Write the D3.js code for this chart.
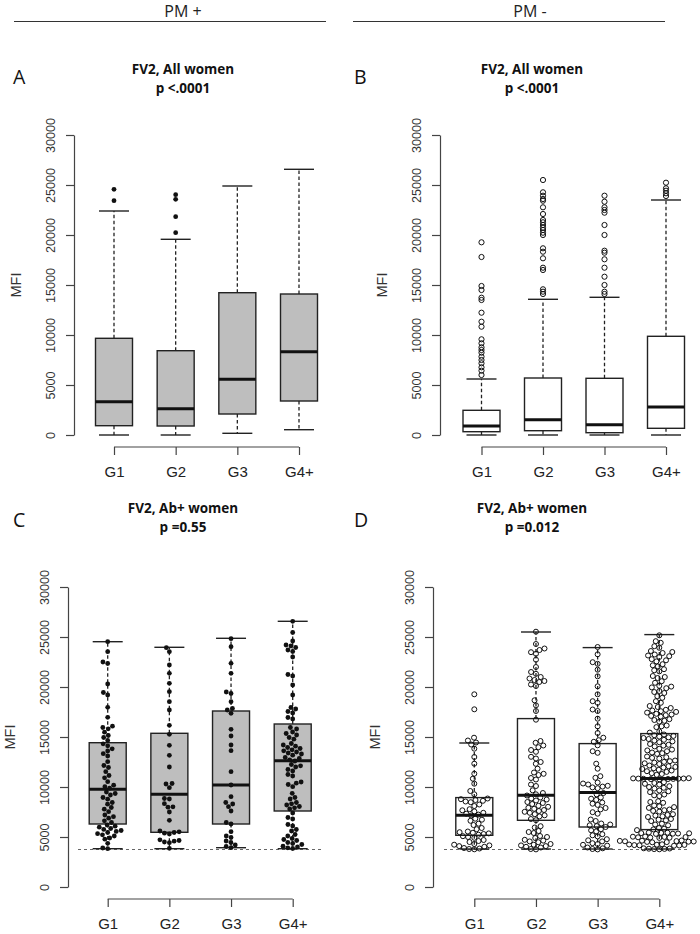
<!DOCTYPE html>
<html><head><meta charset="utf-8">
<script src="https://cdn.jsdelivr.net/npm/d3@7"></script>
<style>body{margin:0;background:#fff}svg{display:block}</style>
</head><body>
<svg id="c" width="700" height="934"></svg>
<script>
const categories = ["G1","G2","G3","G4+"];
const yTicks = [0,5000,10000,15000,20000,25000,30000];
const headers = ["PM +","PM -"];
const titles = ["FV2, All women","FV2, All women","FV2, Ab+ women","FV2, Ab+ women"];
const pvalues = ["p <.0001","p <.0001","p =0.55","p =0.012"];
const letters = ["A","B","C","D"];
const threshold = 3750;

// [low whisker, Q1, median, Q3, high whisker]
const boxA = [[0,930,3330,9670,22400],[0,900,2630,8430,19570],[170,2100,5570,14230,24900],[530,3400,8330,14100,26570]];
const boxB = [[0,330,900,2470,5600],[0,430,1530,5700,13570],[0,230,1030,5670,13770],[0,670,2800,9870,23500]];
const boxC = [[3830,6300,9770,14430,24530],[3830,5470,9270,15370,23970],[3930,6300,10200,17600,24870],[3830,7600,12630,16300,26570]];
const boxD = [[3800,5170,7170,8940,14400],[3800,6670,9170,16840,25500],[3800,6000,9440,14340,23940],[3800,5740,10840,15340,25240]];

const outA = [[24570,23430],[24030,23570,21830,20230],[],[]];
const outB = [
 [19270,17800,14900,14500,13730,13500,12230,11330,10830,9570,9170,8770,8500,8230,7830,7500,7170,6770,6430,6000],
 [25500,24270,23930,23600,23430,22770,22100,21500,21270,21000,20730,20500,20230,20000,18670,18330,17670,16730,16500,14570,14330,14100],
 [23930,23330,22770,22500,22230,21000,20000,18430,18230,17570,16730,15830,15000,14330,14100],
 [25230,24670,24430,24170,23900]];

const ptsC = [
 [24530,23530,22500,22350,20300,19450,19200,17970,16970,16080,15950,15820,15480,15150,14950,14650,14320,14120,13820,13600,13330,13100,12530,12150,11950,11530,11150,10920,10530,10180,10030,9880,9500,9350,9200,8950,8780,8450,8280,7950,7780,7530,7200,7030,6880,6620,6450,6200,6080,5980,5850,5760,5650,5560,5450,5330,5220,5100,4900,4780,4370,3900,3830],
 [23930,23530,22200,21370,20370,19530,18530,17700,16170,15270,14170,13170,12000,10350,10300,9930,8850,8800,8330,8020,7980,7500,6670,5600,5520,5450,5380,5300,4720,4650,4580,4500,4430,3870],
 [24830,24030,22370,21370,19500,19350,18530,17850,17700,17370,15770,15100,14200,13630,11530,10200,9030,8450,8300,8030,7600,6450,6300,5530,5100,4950,4600,4450,4200,4050,3930],
 [26570,25450,24600,24200,24100,23950,23700,23550,23000,21250,21100,20200,19200,17950,17800,17550,17400,16950,16800,15950,15800,15500,15350,15200,14950,14780,14350,14200,14080,13950,13850,13720,13620,13500,13400,13300,13180,12950,12850,12720,12600,12250,12120,12000,11750,11600,11250,11100,10500,10380,10250,10030,9370,8950,8800,8450,8320,8200,8050,7920,7800,7400,6950,6800,6250,6100,5750,5600,5250,5100,4850,4750,4650,4450,4350,4250,4080,4000,3920,3850]];

const ptsD = [
 [19270,17770,14930,14650,14450,14250,13830,13000,12330,11330,10830,10330,9600,9270,8850,8780,8700,8620,8550,8480,8250,8100,7780,7670,7560,7420,7330,7240,7150,6830,6730,6620,6330,6200,5900,5780,5550,5480,5420,5360,5300,5230,5080,5000,4920,4700,4600,4500,4300,4230,4160,4090,4020,3900,3850,3800,3770],
 [25530,24300,23850,23700,23480,23320,22730,22000,21500,21320,21000,20850,20700,20600,20500,20250,20100,18670,18170,17600,16730,14600,14420,14150,13980,13700,13520,13020,12850,12500,12320,11830,11450,11320,11200,10900,10750,10250,10100,9670,9400,9270,9150,8950,8850,8750,8650,8500,8400,8300,8120,8020,7920,7820,7700,7600,7520,7420,7280,7170,7060,6800,6680,6080,5950,5600,5500,5400,5100,5000,4900,4720,4640,4560,4480,4300,4230,4160,4090,4020,3950,3800,3760],
 [24000,23270,22480,22320,21730,21070,20070,19270,18580,18420,17750,17600,16830,16070,15400,14930,14680,14520,14170,13580,13420,12330,11830,11080,10920,10450,10350,10250,10120,10040,9960,9880,9400,9260,8950,8830,8710,8450,8330,8210,7900,7760,7480,7330,6750,6600,6350,6250,6170,6090,6000,5780,5670,5560,5280,5170,5060,4780,4670,4560,4380,4300,4220,4140,3950,3870,3800,3760],
 [25170,24580,24420,24080,23920,23600,23500,23400,23250,23150,23080,23000,22780,22670,22560,22280,22170,22060,21780,21670,21560,21100,21000,20900,20580,20420,20120,20040,19960,19880,19600,19500,19400,19080,18920,18580,18420,18100,18000,17900,
  17720,17650,17580,17510,17440,17320,17250,17180,17110,17040,16780,16700,16620,16540,16150,16070,15990,15560,15440,
  15250,15180,15110,15040,14970,14900,14800,14720,14640,14560,14480,14300,14220,14140,14060,13820,13740,13660,13580,13450,13380,13310,
  13050,12980,12910,12840,12650,12580,12510,12440,12370,12300,12150,12080,12010,11940,11870,11800,11720,11650,11580,11510,11380,11300,11220,
  10880,10860,10850,10840,10830,10820,10810,10800,10790,10770,10480,10400,10320,10240,10080,10000,9920,9840,9650,9570,9490,9250,9170,9090,
  8580,8500,8420,8150,8070,7990,7910,7750,7680,7610,7540,7280,7210,7140,7070,7000,6800,6730,6660,6590,6330,6250,6170,5900,5830,5760,5690,
  5450,5430,5410,5390,5370,5350,5330,5310,5050,5030,5010,4990,4970,4950,4930,4910,
  4650,4630,4610,4590,4570,4550,4530,4510,4490,4470,4270,4250,4230,4210,4190,4170,4150,4130,3870,3850,3830,3810,3790,3770]];

const svg = d3.select("#c");
const SANS = "'Liberation Sans', Arial, sans-serif";
const HUM = "'Open Sans', 'Noto Sans', sans-serif";

// headers
[[183,14,326],[530,353,665]].forEach((h,i)=>{
  svg.append("text").attr("x",h[0]).attr("y",16.5).attr("text-anchor","middle")
    .attr("font-family",HUM).attr("font-size",16).attr("fill","#222").text(headers[i]);
  svg.append("line").attr("x1",h[1]).attr("x2",h[2]).attr("y1",21.5).attr("y2",21.5)
    .attr("stroke","#333").attr("stroke-width",1);
});

const panels = [
  {axisX:74, xr:[114,299], yr:[435,135], xAxisY:447, fill:"#bebebe", box:boxA, out:outA, filled:true, cx:183, ly:84, ty:74, lx:13},
  {axisX:440, xr:[481.5,666], yr:[435,135], xAxisY:447, fill:"#ffffff", box:boxB, out:outB, filled:false, cx:532, ly:84, ty:74, lx:354},
  {axisX:68, xr:[107.7,292.7], yr:[887,587], xAxisY:899, fill:"#bebebe", box:boxC, pts:ptsC, filled:true, cx:183, ly:527, ty:513, lx:13, dash:[78,322], d:5},
  {axisX:433, xr:[474.3,659.3], yr:[887,587], xAxisY:899, fill:"#ffffff", box:boxD, pts:ptsD, filled:false, cx:532, ly:527, ty:513, lx:354, dash:[444,690], d:5.2}
];

function swarm(values, y, d){
  const pts = values.map(v=>({v, y:y(v), x:0})).sort((a,b)=>a.v-b.v);
  const placed = [];
  pts.forEach(p=>{
    const near = placed.filter(q=>Math.abs(q.y-p.y)<d);
    const cands=[0];
    near.forEach(q=>{const dx=Math.sqrt(d*d-(q.y-p.y)**2); cands.push(q.x+dx,q.x-dx);});
    cands.sort((a,b)=>Math.abs(a)-Math.abs(b) || a-b);
    for(const c of cands){
      if(near.every(q=>(c-q.x)**2+(q.y-p.y)**2 >= d*d-1e-6)){p.x=c;break;}
    }
    placed.push(p);
  });
  return pts;
}

panels.forEach((P,pi)=>{
  const g = svg.append("g");
  const x = d3.scalePoint().domain(categories).range(P.xr);
  const y = d3.scaleLinear().domain([0,30000]).range(P.yr);

  g.append("text").attr("x",P.lx).attr("y",P.ly).attr("font-family",HUM).attr("font-size",19.5).attr("fill","#111").text(letters[pi]);
  g.append("text").attr("x",P.cx).attr("y",P.ty).attr("text-anchor","middle").attr("font-family",HUM).attr("font-weight","bold").attr("font-size",13.5).attr("fill","#111").text(titles[pi]);
  g.append("text").attr("x",P.cx).attr("y",P.ty+19).attr("text-anchor","middle").attr("font-family",HUM).attr("font-weight","bold").attr("font-size",13.5).attr("fill","#111").text(pvalues[pi]);

  // y axis
  const ya = g.append("g").attr("transform",`translate(${P.axisX},0)`)
    .call(d3.axisLeft(y).tickValues(yTicks).tickSize(8).tickSizeOuter(0).tickFormat(d3.format("d")));
  ya.select(".domain").attr("stroke","#444").attr("stroke-width",1.2);
  ya.selectAll(".tick line").attr("stroke","#444").attr("stroke-width",1.2);
  ya.selectAll(".tick text").attr("font-family",SANS).attr("font-size",12.6).attr("fill","#333")
    .attr("transform","rotate(-90)").attr("x",0).attr("y",-19).attr("dy",0).attr("text-anchor","middle");
  g.append("text").attr("transform",`translate(${P.axisX-53},${(P.yr[0]+P.yr[1])/2}) rotate(-90)`)
    .attr("text-anchor","middle").attr("font-family",SANS).attr("font-size",14.5).attr("fill","#333").text("MFI");

  // x axis
  const xa = g.append("g").attr("transform",`translate(0,${P.xAxisY})`)
    .call(d3.axisBottom(x).tickSize(8).tickSizeOuter(0).tickPadding(0));
  xa.select(".domain").attr("stroke","#444").attr("stroke-width",1.2).attr("d",`M${P.xr[0]},0H${P.xr[1]}`);
  xa.selectAll(".tick line").attr("stroke","#444").attr("stroke-width",1.2);
  xa.selectAll(".tick text").attr("font-family",SANS).attr("font-size",15).attr("fill","#222").attr("y",30).attr("dy",0);

  if(P.dash){
    g.append("line").attr("x1",P.dash[0]).attr("x2",P.dash[1]).attr("y1",y(threshold)).attr("y2",y(threshold))
      .attr("stroke","#666").attr("stroke-width",1).attr("stroke-dasharray","3,3");
  }

  const bw=37, cw=30;
  categories.forEach((c,i)=>{
    const s=P.box[i], cxp=x(c);
    const bg=g.append("g");
    bg.append("line").attr("x1",cxp).attr("x2",cxp).attr("y1",y(s[3])).attr("y2",y(s[4])).attr("stroke","#222").attr("stroke-width",1.3).attr("stroke-dasharray","3.5,2.5");
    bg.append("line").attr("x1",cxp).attr("x2",cxp).attr("y1",y(s[1])).attr("y2",y(s[0])).attr("stroke","#222").attr("stroke-width",1.3).attr("stroke-dasharray","3.5,2.5");
    [s[0],s[4]].forEach(v=>bg.append("line").attr("x1",cxp-cw/2).attr("x2",cxp+cw/2).attr("y1",y(v)).attr("y2",y(v)).attr("stroke","#222").attr("stroke-width",1.4));
    bg.append("rect").attr("x",cxp-bw/2).attr("width",bw).attr("y",y(s[3])).attr("height",y(s[1])-y(s[3]))
      .attr("fill",P.fill).attr("stroke","#222").attr("stroke-width",1.4);
    bg.append("line").attr("x1",cxp-bw/2).attr("x2",cxp+bw/2).attr("y1",y(s[2])).attr("y2",y(s[2])).attr("stroke","#111").attr("stroke-width",3);

    if(P.out){
      bg.selectAll(null).data(P.out[i]).join("circle").attr("cx",cxp).attr("cy",d=>y(d))
        .attr("r",P.filled?2.4:2.6).attr("fill",P.filled?"#111":"none").attr("stroke","#111").attr("stroke-width",P.filled?0:1);
    }
    if(P.pts){
      const sw = swarm(P.pts[i], y, P.d);
      bg.selectAll(null).data(sw).join("circle").attr("cx",d=>cxp+d.x).attr("cy",d=>d.y)
        .attr("r",P.filled?2.4:2.5).attr("fill",P.filled?"#111":"none").attr("stroke","#111").attr("stroke-width",P.filled?0:1);
    }
  });
});
</script>
</body></html>
